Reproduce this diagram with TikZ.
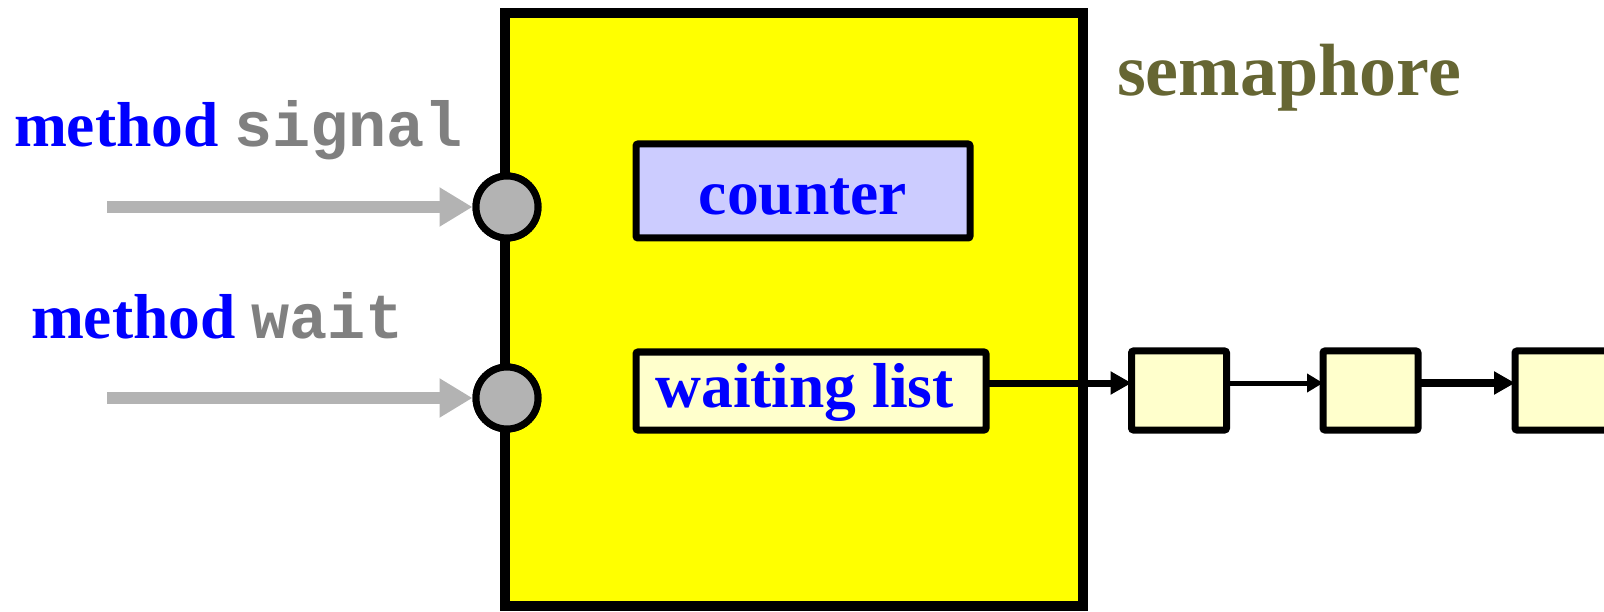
\documentclass[tikz,border=0pt]{standalone}
\usepackage{fontspec}
\setmainfont{Liberation Serif}
\setmonofont{Liberation Mono}
\usetikzlibrary{arrows.meta}
\definecolor{txtblue}{HTML}{0000FF}
\definecolor{txtgray}{HTML}{808080}
\definecolor{semyellow}{HTML}{FFFF00}
\definecolor{lavender}{HTML}{CCCCFF}
\definecolor{paleyellow}{HTML}{FFFFCC}
\definecolor{olive}{HTML}{666633}
\definecolor{portgray}{HTML}{B3B3B3}
\tikzset{
  lbl/.style={inner sep=0pt, outer sep=0pt, text=txtblue, font=\fontsize{63.5}{70}\selectfont\bfseries},
  field/.style={draw, line width=7pt, inner sep=0pt, outer sep=0pt, rounded corners=2pt, text=txtblue,
    font=\fontsize{63.5}{70}\selectfont\bfseries},
  cell/.style={draw, line width=7pt, fill=paleyellow, inner sep=0pt, outer sep=0pt, rounded corners=2pt,
    minimum width=95pt, minimum height=79pt},
  port/.style={circle, draw, line width=7pt, fill=portgray, minimum size=62pt, inner sep=0pt, outer sep=3.5pt},
  garrow/.style={draw=portgray, line width=12pt, -{Triangle[length=33pt, width=37pt]}},
  link/.style={line width=#1, -{Triangle[length=21pt, width=22pt]}},
  thinlink/.style={line width=5pt, -{Triangle[length=16pt, width=18pt]}}
}
\begin{document}
\begin{tikzpicture}[x=1pt, y=-1pt]
\useasboundingbox (0,0) rectangle (1604,612);
\clip (0,0) rectangle (1604,612);

% semaphore body
\node[draw, line width=10pt, fill=semyellow, inner sep=0pt, outer sep=0pt,
      minimum width=578pt, minimum height=593pt] (sem) at (794,309.5) {};

% title
\node[anchor=base west, inner sep=0pt, text=olive, font=\fontsize{74}{80}\selectfont\bfseries]
  (title) at (1117,96) {semaphore};

% fields
\node[field, fill=lavender, minimum width=334pt, minimum height=94pt, text height=48pt, text depth=0pt]
  (cnt) at (803,191) {counter};
\node[field, fill=paleyellow, minimum width=350pt, minimum height=78pt, text height=46pt, text depth=14pt]
  (wl) at (811,391) {waiting list\hspace*{13pt}};

% method labels
\node[lbl, anchor=base west] (m1) at (14,147) {method \textcolor{txtgray}{\ttfamily signal}};
\node[lbl, anchor=base west] (m2) at (31,338) {method \textcolor{txtgray}{\ttfamily wait}};

% ports
\coordinate (s1) at (107,207);
\coordinate (s2) at (107,398);
\node[port] (c1) at (507,207) {};
\node[port] (c2) at (507,398) {};
\draw[garrow] (s1) -- (c1.west);
\draw[garrow] (s2) -- (c2.west);
\node[port] at (c1) {};
\node[port] at (c2) {};

% waiting list cells
\node[cell] (b1) at (1179,390.5) {};
\node[cell] (b2) at (1370.5,390.5) {};
\node[cell] (b3) at (1562.5,390.5) {};

\draw[link=7pt] ([yshift=8pt]wl.east) -- ([yshift=7.5pt]b1.west);
\draw[thinlink] ([yshift=7.5pt]b1.east) -- ([yshift=7.5pt]b2.west);
\draw[link=8pt] ([yshift=7.5pt]b2.east) -- ([yshift=7.5pt]b3.west);
\end{tikzpicture}
\end{document}
